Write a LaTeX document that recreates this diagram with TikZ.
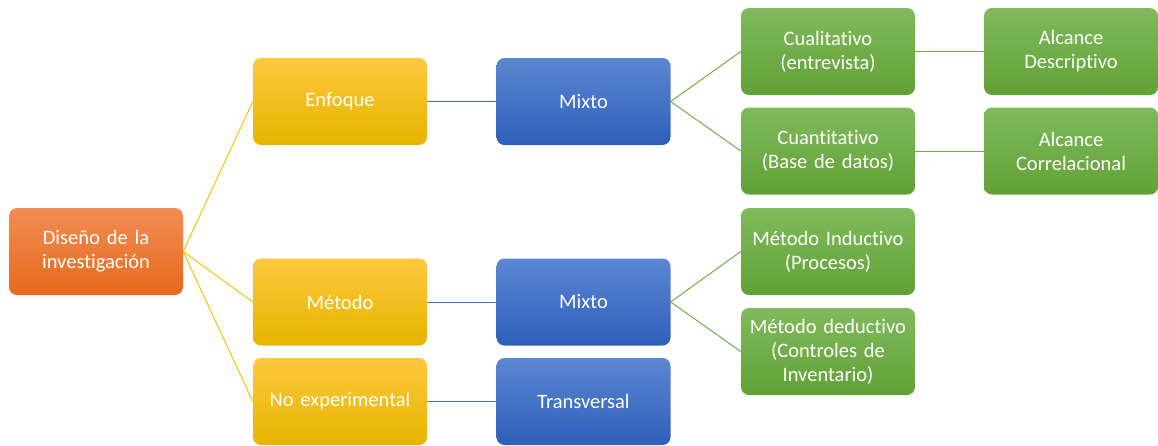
\documentclass[tikz,border=0pt]{standalone}
\usepackage{fontspec}
\setmainfont{Carlito}[Ligatures=NoCommon]
\begin{document}
\begin{tikzpicture}[x=1pt,y=-1pt,
  box/.style={rounded corners=8pt,minimum width=174pt,minimum height=87pt,inner sep=2pt,
    text=white,align=center,font=\fontsize{20.5}{24}\selectfont,text width=170pt},
  orangebox/.style={box,top color=orangeT,bottom color=orangeB},
  yellowbox/.style={box,top color=yellowT,bottom color=yellowB},
  bluebox/.style={box,top color=blueT,bottom color=blueB},
  greenbox/.style={box,top color=greenT,bottom color=greenB},
  yline/.style={draw=yellowL,line width=1pt},
  bline/.style={draw=blueL,line width=1pt},
  gline/.style={draw=greenL,line width=1pt}]
\definecolor{orangeT}{HTML}{F28C53}
\definecolor{orangeB}{HTML}{E66A1C}
\definecolor{yellowT}{HTML}{FFC73D}
\definecolor{yellowB}{HTML}{E6B500}
\definecolor{blueT}{HTML}{5B86D2}
\definecolor{blueB}{HTML}{2F5FBA}
\definecolor{greenT}{HTML}{80BA5C}
\definecolor{greenB}{HTML}{62A136}
\definecolor{yellowL}{HTML}{FFC000}
\definecolor{blueL}{HTML}{4472C4}
\definecolor{greenL}{HTML}{70AD47}
\useasboundingbox (0,0) rectangle (1158,445);
\node[orangebox] (dis) at (96,251.5) {Diseño de la\\investigación};
\node[yellowbox] (enf) at (340,101.5) {Enfoque};
\node[yellowbox] (met) at (340,302) {Método};
\node[yellowbox] (noe) at (340,401.5) {No experimental};
\node[bluebox] (mx1) at (583.5,101.5) {Mixto};
\node[bluebox] (mx2) at (583.5,302) {Mixto};
\node[bluebox] (tra) at (583.5,401.5) {Transversal};
\node[greenbox] (cual) at (828,51.5) {Cualitativo\\(entrevista)};
\node[greenbox] (cuan) at (828,151) {Cuantitativo\\(Base de datos)};
\node[greenbox] (ind) at (828,251.5) {Método Inductivo\\(Procesos)};
\node[greenbox] (ded) at (828,351.5) {Método deductivo\\(Controles de\\Inventario)};
\node[greenbox] (ades) at (1071,51.5) {Alcance\\Descriptivo};
\node[greenbox] (acor) at (1071,151) {Alcance\\Correlacional};
\draw[yline] (dis.east) -- (enf.west);
\draw[yline] (dis.east) -- (met.west);
\draw[yline] (dis.east) -- (noe.west);
\draw[bline] (enf.east) -- (mx1.west);
\draw[bline] (met.east) -- (mx2.west);
\draw[bline] (noe.east) -- (tra.west);
\draw[gline] (mx1.east) -- (cual.west);
\draw[gline] (mx1.east) -- (cuan.west);
\draw[gline] (mx2.east) -- (ind.west);
\draw[gline] (mx2.east) -- (ded.west);
\draw[gline] (cual.east) -- (ades.west);
\draw[gline] (cuan.east) -- (acor.west);
\end{tikzpicture}
\end{document}
